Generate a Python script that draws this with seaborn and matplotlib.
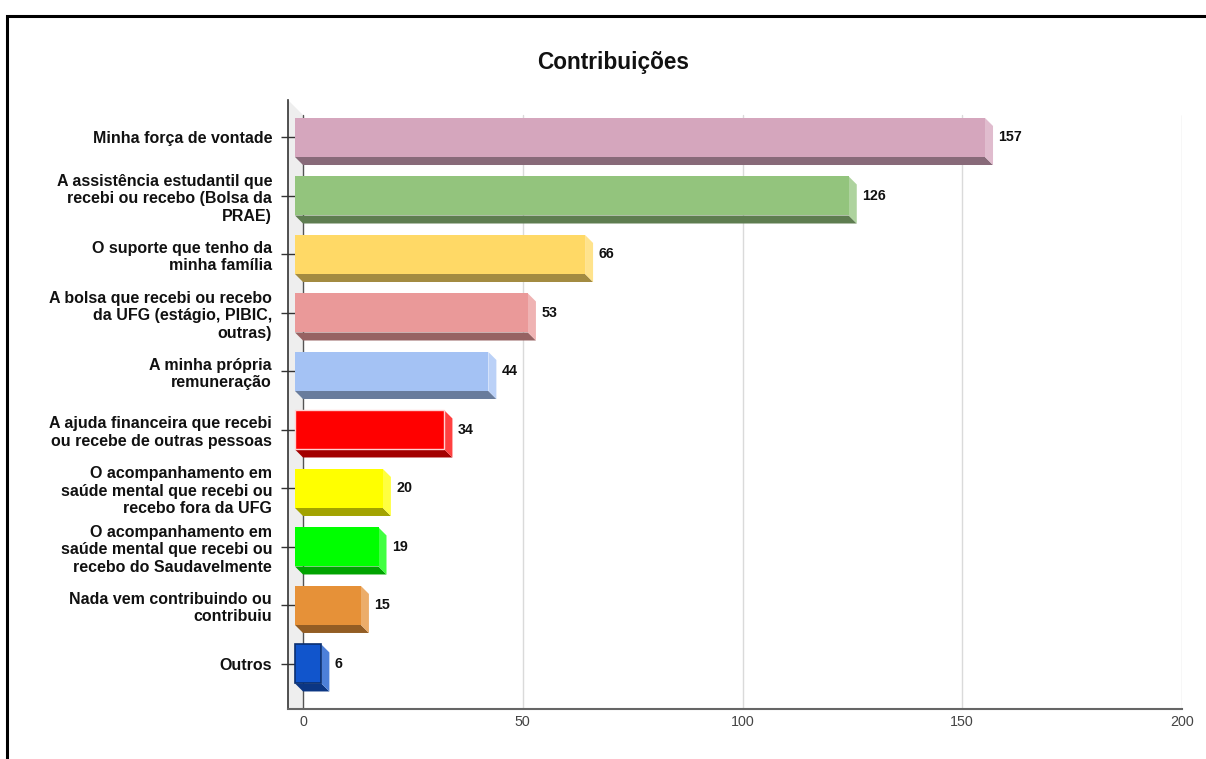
import numpy as np
import pandas as pd
import seaborn as sns
import matplotlib.pyplot as plt
from matplotlib.patches import Polygon, Rectangle
from matplotlib.colors import to_rgb

# Chart data
categories = [
    "Minha força de vontade",
    "A assistência estudantil que\nrecebi ou recebo (Bolsa da\nPRAE)",
    "O suporte que tenho da\nminha família",
    "A bolsa que recebi ou recebo\nda UFG (estágio, PIBIC,\noutras)",
    "A minha própria\nremuneração",
    "A ajuda financeira que recebi\nou recebe de outras pessoas",
    "O acompanhamento em\nsaúde mental que recebi ou\nrecebo fora da UFG",
    "O acompanhamento em\nsaúde mental que recebi ou\nrecebo do Saudavelmente",
    "Nada vem contribuindo ou\ncontribuiu",
    "Outros",
]
values = [157, 126, 66, 53, 44, 34, 20, 19, 15, 6]
colors = ["#D5A6BD", "#93C47D", "#FFD966", "#EA9999", "#A4C2F4",
          "#FF0000", "#FFFF00", "#00FF00", "#E69138", "#1155CC"]
x_ticks = [0, 50, 100, 150, 200]

sns.set_theme(style="white")
plt.rcParams["font.family"] = ["Liberation Sans", "DejaVu Sans"]

W, H = 1206, 759
fig = plt.figure(figsize=(W / 100, H / 100), dpi=100)
ax = fig.add_axes([288 / W, (H - 709) / H, (1182 - 288) / W, (709 - 100) / H])

df = pd.DataFrame({"cat": categories, "val": values})
sns.barplot(data=df, x="val", y="cat", hue="cat", palette=colors, saturation=1,
            legend=False, orient="h", width=0.667, ax=ax, zorder=4,
            linewidth=0, edgecolor="none")
bars = list(ax.patches)

# axis limits (left wall sits left of zero)
px_per_unit = (1182 - 303) / 200
ax.set_xlim(-15 / px_per_unit, 200)
ax.set_ylim(9.77, -0.641)
fig.canvas.draw()

# pixel -> data conversion for the pseudo 3D depth
inv = ax.transData.inverted()
p0 = inv.transform((0, 0))
p1 = inv.transform((8, -8))
ddx, ddy = p1[0] - p0[0], p1[1] - p0[1]
w15 = inv.transform((15, -15)) - p0
x_min, x_max = ax.get_xlim()
y_bot, y_top = ax.get_ylim()

# left wall
wall = Polygon([(x_min, y_top), (0, y_top + w15[1]), (0, y_bot), (x_min, y_bot + w15[1])],
               closed=True, facecolor="#EEEEEE", edgecolor="none", zorder=0)
ax.add_patch(wall)

# gridlines and zero line
for t in x_ticks[1:]:
    ax.plot([t, t], [y_top + w15[1], y_bot], color="#DADADA", lw=1, zorder=1)
ax.plot([0, 0], [y_top + w15[1], y_bot], color="#555555", lw=1, zorder=1)

# 3D faces built from seaborn's bars
for i, p in enumerate(bars):
    x0, w = p.get_x(), p.get_width()
    y0, h = p.get_y(), p.get_height()
    x1, y1 = x0 + w, y0 + h
    rgb = np.array(to_rgb(colors[i]))
    dark = rgb * 0.64
    light = rgb + (1 - rgb) * 0.25
    p.set_x(x0 - ddx)
    bottom = Polygon([(x0 - ddx, y1), (x0, y1 + ddy), (x1, y1 + ddy), (x1 - ddx, y1)],
                     closed=True, facecolor=dark, edgecolor="none", zorder=3)
    side = Polygon([(x1 - ddx, y0), (x1, y0 + ddy), (x1, y1 + ddy), (x1 - ddx, y1)],
                   closed=True, facecolor=light, edgecolor="none", zorder=3)
    ax.add_patch(bottom)
    ax.add_patch(side)
    if colors[i] == "#FF0000":
        p.set_edgecolor("#FFD0D0")
        p.set_linewidth(1)
    elif colors[i] == "#1155CC":
        p.set_edgecolor("#0A2F70")
        p.set_linewidth(1.2)
    ax.annotate(str(values[i]), (values[i], i), xytext=(4, 0), textcoords="offset points",
                ha="left", va="center", fontsize=10.3, fontweight="bold", color="#111111")

ax.set_xticks(x_ticks)
ax.set_xlabel("")
ax.set_ylabel("")
for s in ["top", "right"]:
    ax.spines[s].set_visible(False)
ax.spines["left"].set_color("#333333")
ax.spines["left"].set_linewidth(1.2)
ax.spines["bottom"].set_color("#666666")
ax.spines["bottom"].set_linewidth(1.5)
ax.tick_params(axis="y", direction="inout", length=10, width=1, color="#333333",
               pad=6.5, labelsize=11.5, left=True)
for lbl in ax.get_yticklabels():
    lbl.set_fontweight("bold")
    lbl.set_color("#111111")
    lbl.set_linespacing(1.2)
ax.tick_params(axis="x", length=0, pad=4, labelsize=10.3, labelcolor="#444444")

fig.text(613 / W, 1 - 63 / H, "Contribuições", ha="center", va="center",
         fontsize=16.3, fontweight="bold", color="#111111")

# outer frame
fig.add_artist(Rectangle((7 / W, -0.2), 2, 0.2 + 1 - 15.5 / H, transform=fig.transFigure,
                         fill=False, edgecolor="black", lw=2.2, clip_on=False))

fig.savefig("out.png", dpi=100)
